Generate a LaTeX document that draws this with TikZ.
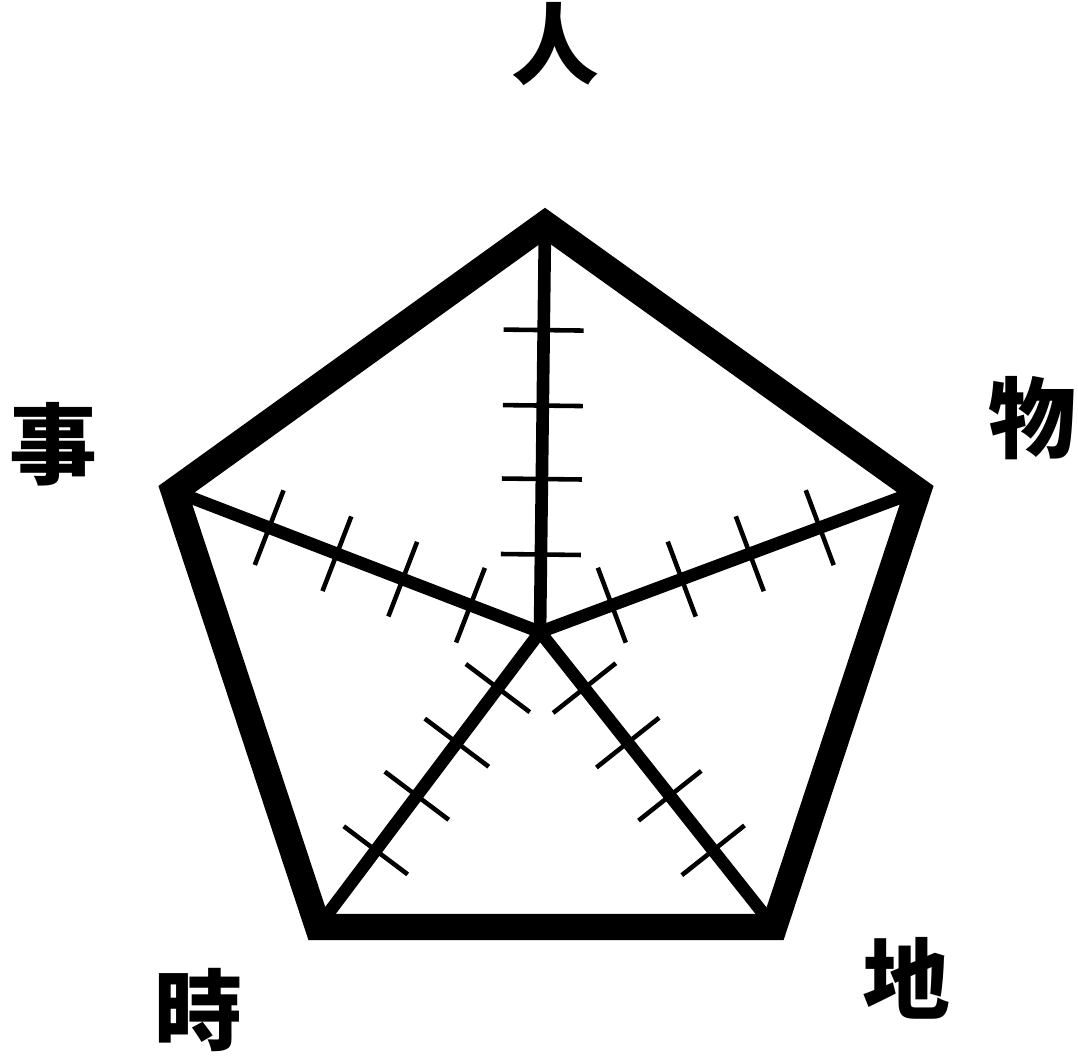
\documentclass[tikz,border=0pt]{standalone}
\usepackage{fontspec}
\newfontfamily\cjk{Noto Sans CJK TC}
\usepackage{tikz}
\usetikzlibrary{calc}

\begin{document}
\begin{tikzpicture}[
    x=0.02cm, y=-0.02cm,
    outline/.style={
        draw=black,
        line width=15pt,
        line join=miter
    },
    spoke/.style={
        draw=black,
        line width=7.2pt
    },
    tick/.style={
        draw=black,
        line width=2.6pt
    },
    label/.style={
        font=\cjk\bfseries\fontsize{50}{50}\selectfont,
        inner sep=0pt
    }
]
\useasboundingbox (0,0) rectangle (1078,1056);

\coordinate (ctr) at (540,632);
\coordinate (ren) at (545,224);
\coordinate (wu) at (918,491);
\coordinate (di) at (774,927);
\coordinate (shi) at (318,927);
\coordinate (sh) at (174,491);

% spokes with tick marks
\foreach \v in {ren,wu,di,shi,sh} {
    \draw[spoke] (ctr) -- (\v);
    \foreach \t in {0.19,0.375,0.555,0.74} {
        \coordinate (p) at ($(ctr)!\t!(\v)$);
        \draw[tick] ($(p)!0.8cm!90:(\v)$) -- ($(p)!0.8cm!-90:(\v)$);
    }
}

\draw[outline] (ren) -- (wu) -- (di) -- (shi) -- (sh) -- cycle;

\node[label] (renlabel) at (555,44) {人};
\node[label] (wulabel) at (1032,418) {物};
\node[label] (dilabel) at (906,978) {地};
\node[label] (shilabel) at (198,1010) {時};
\node[label] (shlabel) at (53,444) {事};
\end{tikzpicture}
\end{document}
